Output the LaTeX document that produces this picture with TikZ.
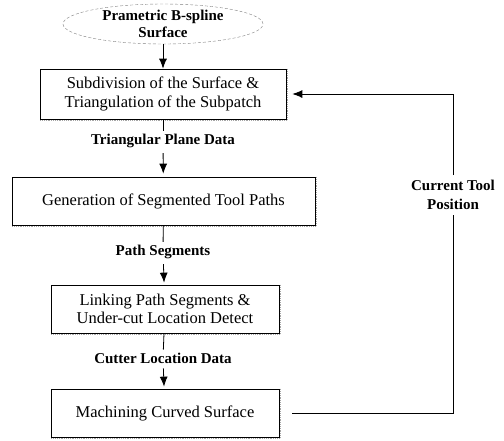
\documentclass[tikz,border=0pt]{standalone}
\usepackage{fontspec}
\setmainfont{Liberation Serif}
\usetikzlibrary{shapes.geometric, arrows.meta}

\begin{document}
\begin{tikzpicture}[x=1pt, y=-1pt,
        box/.style={draw, line width=0.7pt, align=center, inner sep=0pt,
            font=\fontsize{16.5}{18.5}\selectfont},
        lab/.style={align=center, inner sep=2pt,
            font=\fontsize{15}{19}\selectfont\bfseries},
        scanedge/.style={draw=gray!70, densely dotted, line width=1.2pt},
        arr/.style={-{Latex[length=10pt, width=8pt]}, line width=0.8pt}]

        \useasboundingbox (0,0) rectangle (504,440);

        \coordinate (S) at (163,24);
        \coordinate (P1) at (163,94);
        \coordinate (P2) at (163.5,201);
        \coordinate (P3) at (165,309);
        \coordinate (P4) at (165,413);

        \node[ellipse, draw=gray, densely dashed, minimum width=200pt, minimum height=40pt,
            inner sep=0pt, align=center, font=\fontsize{15}{17}\selectfont\bfseries]
            (surf) at (S) {Prametric B-spline\\Surface};

        \node[box, minimum width=246pt, minimum height=50pt] (sub) at (P1)
            {Subdivision of the Surface \&\\Triangulation of the Subpatch};
        \node[box, minimum width=303pt, minimum height=48pt] (gen) at (P2)
            {Generation of Segmented Tool Paths};
        \node[box, minimum width=228pt, minimum height=48pt] (link) at (P3)
            {Linking Path Segments \&\\Under-cut Location Detect};
        \node[box, minimum width=228pt, minimum height=48pt] (mach) at (P4)
            {Machining Curved Surface};

        % scanned shadow on right and bottom edges
        \foreach \b in {sub,gen,link,mach}
            \draw[scanedge] ([shift={(1.5,0)}]\b.north east) -- ([shift={(1.5,1.5)}]\b.south east)
                -- ([shift={(0,1.5)}]\b.south west);

        \node[lab] (tri) at (163,141) {Triangular Plane Data};
        \node[lab] (seg) at (163,252) {Path Segments};
        \node[lab] (cl) at (163,358) {Cutter Location Data};
        \node[lab, inner sep=5pt] (pos) at (453,195) {Current Tool\\Position};

        \draw[arr] (surf) -- (sub);
        \draw[line width=0.8pt, shorten >=1pt] (sub) -- (tri);
        \draw[arr, shorten >=3pt, shorten <=3pt] (tri) -- (gen);
        \draw[line width=0.8pt, shorten >=1pt] (gen) -- (seg);
        \draw[arr, shorten >=2pt, shorten <=3pt] (seg) -- (link);
        \draw[line width=0.8pt, shorten >=1pt] (link) -- (cl);
        \draw[arr, shorten >=2pt, shorten <=3pt] (cl) -- (mach);

        \draw[line width=0.8pt, shorten <=13pt] (mach.east) -- (mach.east -| pos) -- (pos);
        \draw[arr, shorten >=6pt] (pos) -- (pos |- sub.east) -- (sub.east);
    \end{tikzpicture}
\end{document}
